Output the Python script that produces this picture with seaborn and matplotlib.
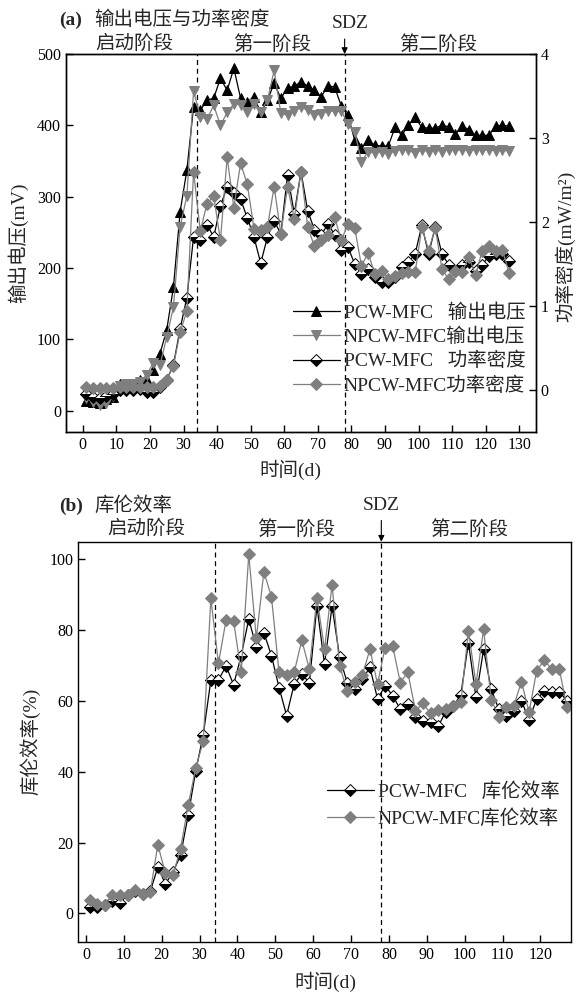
import matplotlib
matplotlib.use('Agg')
import matplotlib.pyplot as plt
import seaborn as sns
import pandas as pd

# ---------------- data ----------------
days = [1, 3, 5, 7, 9, 11, 13, 15, 17, 19, 21, 23, 25, 27, 29, 31,
        33, 35, 37, 39, 41, 43, 45, 47, 49, 51, 53, 55, 57, 59, 61, 63,
        65, 67, 69, 71, 73, 75, 77, 79, 81, 83, 85, 87, 89, 91, 93, 95,
        97, 99, 101, 103, 105, 107, 109, 111, 113, 115, 117, 119, 121, 123, 125, 127]

pcw_voltage = [14, 12, 11, 16, 19, 38, 38, 38, 43, 43, 57, 80, 113, 173, 279, 337,
               426, 421, 435, 438, 466, 449, 480, 438, 433, 440, 418, 435, 459, 438, 452, 455,
               461, 455, 449, 440, 455, 454, 427, 414, 379, 368, 379, 372, 371, 371, 397, 386,
               400, 411, 397, 396, 396, 400, 398, 388, 399, 394, 386, 386, 386, 399, 400, 399]

npcw_voltage = [18, 12, 8, 10, 20, 35, 37, 38, 40, 50, 67, 64, 103, 145, 258, 301,
                448, 412, 409, 428, 400, 418, 430, 429, 419, 430, 419, 435, 477, 417, 414, 420,
                426, 421, 414, 416, 420, 420, 420, 402, 391, 349, 363, 361, 363, 360, 364, 366,
                365, 361, 366, 363, 366, 363, 366, 365, 366, 364, 366, 365, 366, 364, 365, 364]

pcw_power = [-0.05, -0.08, -0.09, -0.07, -0.05, 0.0, 0.0, 0.0, 0.01, -0.02, -0.02, 0.04, 0.12, 0.30, 0.73, 1.10,
             1.82, 1.79, 1.97, 1.82, 2.19, 2.42, 2.35, 2.27, 2.05, 1.82, 1.51, 1.82, 2.01, 1.86, 2.56, 2.10,
             2.60, 2.13, 1.91, 1.84, 1.98, 1.85, 1.67, 1.70, 1.50, 1.38, 1.44, 1.34, 1.29, 1.28, 1.34, 1.46,
             1.52, 1.62, 1.96, 1.62, 1.94, 1.62, 1.49, 1.42, 1.49, 1.52, 1.42, 1.49, 1.60, 1.62, 1.62, 1.53]

npcw_power = [0.03, 0.02, 0.02, 0.02, 0.02, 0.03, 0.03, 0.03, 0.03, 0.04, 0.03, 0.05, 0.12, 0.29, 0.69, 0.94,
              2.60, 1.89, 2.22, 2.31, 1.78, 2.77, 2.17, 2.70, 2.45, 1.92, 1.90, 1.94, 2.42, 1.86, 2.42, 2.04,
              2.60, 1.94, 1.71, 1.78, 1.84, 2.06, 1.78, 1.98, 1.93, 1.48, 1.63, 1.38, 1.42, 1.32, 1.36, 1.39,
              1.40, 1.40, 1.94, 1.66, 1.93, 1.44, 1.32, 1.42, 1.40, 1.58, 1.37, 1.66, 1.72, 1.66, 1.67, 1.39]

pcw_ce = [1.9, 1.7, 2.3, 3.5, 3.0, 5.2, 6.4, 5.5, 6.2, 13.1, 8.3, 11.7, 16.4, 27.7, 40.2, 50.5,
          65.9, 65.9, 69.9, 64.6, 72.8, 83.1, 75.3, 79.3, 72.8, 63.8, 55.9, 64.8, 67.6, 65.2, 86.8, 70.4,
          86.8, 72.3, 65.2, 63.4, 66.2, 69.5, 60.6, 64.3, 61.5, 57.7, 59.1, 55.4, 54.4, 54.0, 52.8, 57.0,
          58.5, 61.8, 76.5, 61.0, 74.6, 63.4, 57.7, 55.9, 57.3, 60.1, 54.6, 60.6, 62.7, 62.6, 62.6, 60.1]

npcw_ce = [3.9, 2.6, 2.3, 5.3, 5.3, 5.3, 6.6, 5.5, 6.0, 19.4, 11.3, 10.8, 18.3, 30.5, 41.1, 48.6,
           89.0, 70.6, 82.8, 82.6, 68.1, 101.4, 77.7, 96.5, 89.4, 68.1, 67.4, 68.1, 77.2, 69.0, 89.2, 74.6,
           92.8, 69.9, 62.9, 65.5, 67.4, 74.6, 64.8, 75.1, 75.6, 65.2, 68.1, 57.3, 59.3, 56.5, 57.5, 57.7,
           58.7, 59.6, 79.8, 64.8, 80.3, 60.4, 55.6, 58.4, 58.7, 65.5, 56.8, 68.5, 71.5, 69.0, 69.0, 58.2]

phase_labels = ['启动阶段', '第一阶段', '第二阶段']
phase_bounds = [34, 78]
legend_top = ['PCW-MFC   输出电压', 'NPCW-MFC输出电压', 'PCW-MFC   功率密度', 'NPCW-MFC功率密度']
legend_bottom = ['PCW-MFC   库伦效率', 'NPCW-MFC库伦效率']

# ---------------- style ----------------
sns.set_style('ticks')
plt.rcParams['font.family'] = ['Liberation Serif', 'Noto Sans CJK SC']
plt.rcParams['axes.unicode_minus'] = False
plt.rcParams['axes.edgecolor'] = 'black'
plt.rcParams['axes.linewidth'] = 1.0

GRAY = '#7f7f7f'
W, H = 578, 998


def fx(x):
    return x / W


def fy(y):
    return 1 - y / H


fig = plt.figure(figsize=(W / 100, H / 100), dpi=100)

df = pd.DataFrame({'day': days, 'pcw_v': pcw_voltage, 'npcw_v': npcw_voltage,
                   'pcw_p': pcw_power, 'npcw_p': npcw_power,
                   'pcw_ce': pcw_ce, 'npcw_ce': npcw_ce})

black_kw = dict(color='black', lw=0.9, markeredgecolor='black', markeredgewidth=0.7)
gray_kw = dict(color=GRAY, lw=0.9, markeredgecolor=GRAY, markeredgewidth=0.7)
half_kw = dict(marker='D', markersize=6.5, fillstyle='bottom', markerfacecolor='black',
               markerfacecoloralt='white')

# ---------------- panel (a) ----------------
ax1 = fig.add_axes([fx(66), fy(432), (536 - 66) / W, (432 - 54) / H])
ax1r = ax1.twinx()

sns.lineplot(data=df, x='day', y='pcw_v', ax=ax1, errorbar=None, legend=False,
             marker='^', markersize=7.5, markerfacecolor='black', label=legend_top[0], **black_kw)
sns.lineplot(data=df, x='day', y='npcw_v', ax=ax1, errorbar=None, legend=False,
             marker='v', markersize=7.5, markerfacecolor=GRAY, label=legend_top[1], **gray_kw)
sns.lineplot(data=df, x='day', y='pcw_p', ax=ax1r, errorbar=None, legend=False,
             label=legend_top[2], **half_kw, **black_kw)
sns.lineplot(data=df, x='day', y='npcw_p', ax=ax1r, errorbar=None, legend=False,
             marker='D', markersize=6.5, markerfacecolor=GRAY, label=legend_top[3], **gray_kw)

ax1.set_xlim(-5, 135)
ax1.set_ylim(-30, 500)
ax1r.set_ylim(-0.5, 4)
ax1.set_xticks(range(0, 131, 10))
ax1.set_yticks(range(0, 501, 100))
ax1r.set_yticks([0, 1, 2, 3, 4])
for b in phase_bounds:
    ax1.axvline(b, color='black', lw=0.9, ls=(0, (4, 3)), zorder=0)
ax1.set_xlabel('')
ax1.set_ylabel('')
ax1r.set_ylabel('')
ax1.tick_params(direction='in', length=5, width=1, labelsize=11.5, right=False, top=False,
                colors='black')
ax1r.tick_params(direction='in', length=5, width=1, labelsize=11.5, colors='black')
ax1.annotate('', xy=(78, 500), xytext=(78, 521), annotation_clip=False,
             arrowprops=dict(arrowstyle='-|>', color='black', lw=0.8, mutation_scale=9,
                             shrinkA=0, shrinkB=0))

h1, l1 = ax1.get_legend_handles_labels()
h2, l2 = ax1r.get_legend_handles_labels()
ax1r.legend(h1 + h2, l1 + l2, loc='center left', bbox_to_anchor=(fx(293), fy(349)),
            bbox_transform=fig.transFigure, frameon=False, borderpad=0, borderaxespad=0,
            handlelength=2.4, handletextpad=0.2, labelspacing=0.3, fontsize=14)

fig.text(fx(59), fy(20), '(a)', fontsize=14, weight='bold', ha='left', va='center')
fig.text(fx(94), fy(20), '输出电压与功率密度', fontsize=14, ha='left', va='center')
fig.text(fx(350), fy(23), 'SDZ', fontsize=14, ha='center', va='center')
for lab, xc in zip(phase_labels, [134, 272, 438]):
    fig.text(fx(xc), fy(44), lab, fontsize=14, ha='center', va='center')
fig.text(fx(18), fy(243), '输出电压(mV)', fontsize=14, rotation=90, ha='center', va='center')
fig.text(fx(565), fy(246), '功率密度(mW/m²)', fontsize=14, rotation=90, ha='center', va='center')
fig.text(fx(290), fy(470), '时间(d)', fontsize=14, ha='center', va='center')

# ---------------- panel (b) ----------------
ax2 = fig.add_axes([fx(78.3), fy(941.7), (570.7 - 78.3) / W, (941.7 - 541.7) / H])
sns.lineplot(data=df, x='day', y='pcw_ce', ax=ax2, errorbar=None, legend=False,
             label=legend_bottom[0], **half_kw, **black_kw)
sns.lineplot(data=df, x='day', y='npcw_ce', ax=ax2, errorbar=None, legend=False,
             marker='D', markersize=6.5, markerfacecolor=GRAY, label=legend_bottom[1], **gray_kw)
ax2.set_xlim(-2, 128)
ax2.set_ylim(-8, 105)
ax2.set_xticks(range(0, 121, 10))
ax2.set_yticks(range(0, 101, 20))
for b in phase_bounds:
    ax2.axvline(b, color='black', lw=0.9, ls=(0, (4, 3)), zorder=0)
ax2.set_xlabel('')
ax2.set_ylabel('')
ax2.tick_params(direction='in', length=5, width=1, labelsize=11.5, colors='black')
ax2.annotate('', xy=(78, 105), xytext=(78, 111), annotation_clip=False,
             arrowprops=dict(arrowstyle='-|>', color='black', lw=0.8, mutation_scale=9,
                             shrinkA=0, shrinkB=0))
h3, l3 = ax2.get_legend_handles_labels()
ax2.legend(h3, l3, loc='center left', bbox_to_anchor=(fx(327), fy(805)),
           bbox_transform=fig.transFigure, frameon=False, borderpad=0, borderaxespad=0,
           handlelength=2.4, handletextpad=0.2, labelspacing=0.4, fontsize=14)

fig.text(fx(59), fy(506), '(b)', fontsize=14, weight='bold', ha='left', va='center')
fig.text(fx(94), fy(506), '库伦效率', fontsize=14, ha='left', va='center')
fig.text(fx(381), fy(505), 'SDZ', fontsize=14, ha='center', va='center')
for lab, xc in zip(phase_labels, [146, 296, 469]):
    fig.text(fx(xc), fy(529), lab, fontsize=14, ha='center', va='center')
fig.text(fx(30), fy(741), '库伦效率(%)', fontsize=14, rotation=90, ha='center', va='center')
fig.text(fx(325), fy(982), '时间(d)', fontsize=14, ha='center', va='center')

fig.savefig('out.png', dpi=100)
